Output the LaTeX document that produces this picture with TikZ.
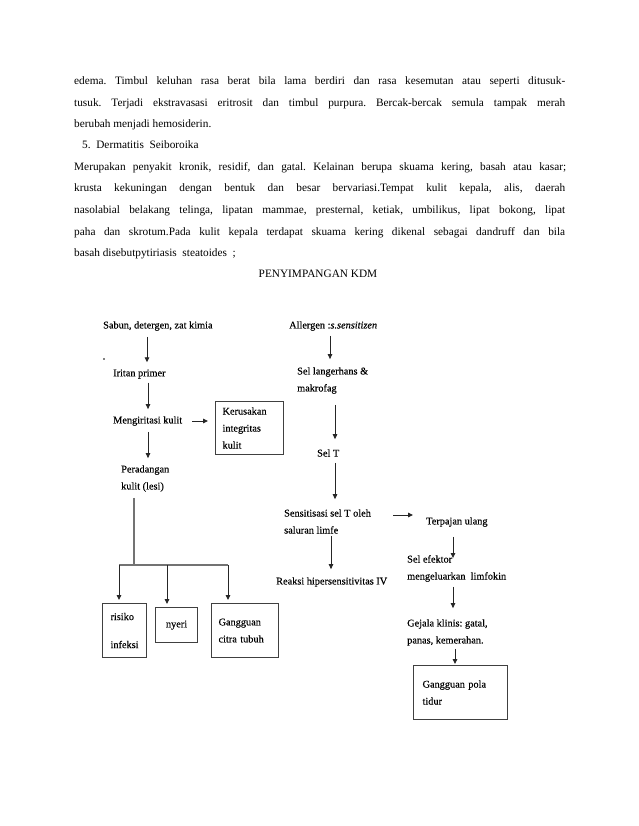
\documentclass[tikz,border=0pt]{standalone}
\usepackage{fontspec}
\setmainfont{Liberation Serif}
\newfontfamily\diagfont[FakeBold=0.2]{Liberation Serif}
\usetikzlibrary{arrows.meta,calc}
\frenchspacing
\begin{document}
\begin{tikzpicture}[x=1pt,y=-1pt,
  body/.style={anchor=base west,inner sep=0pt,font=\fontsize{11.3}{13}\selectfont\frenchspacing},
  lbl/.style={anchor=west,inner sep=0pt,align=left,font=\diagfont\fontsize{10.3}{17}\selectfont},
  bx/.style={draw=black!75,line width=1.1pt,align=left,inner xsep=7pt,inner ysep=0pt,font=\diagfont\fontsize{10.3}{17}\selectfont},
  arr/.style={draw=black!85,line width=0.9pt,-{Triangle[length=5pt,width=4.5pt]}},
  tree/.style={draw=black!55,line width=1.4pt}]
\fill[white] (0,0) rectangle (638,826);
\useasboundingbox (0,0) rectangle (638,826);

% ---- body text
\node[body] (t1) at (74,85) {\makebox[491pt][s]{edema. Timbul keluhan rasa berat bila lama berdiri dan rasa kesemutan atau seperti ditusuk-}};
\node[body] (t2) at (74,107) {\makebox[491pt][s]{tusuk. Terjadi ekstravasasi eritrosit dan timbul purpura. Bercak-bercak semula tampak merah}};
\node[body] (t3) at (74,128) {berubah menjadi hemosiderin.};
\node[body] (t4) at (82,149) {5.\ \ Dermatitis\ \ Seiboroika};
\node[body] (t5) at (74,171) {\makebox[492pt][s]{Merupakan penyakit kronik, residif, dan gatal. Kelainan berupa skuama kering, basah atau kasar;}};
\node[body] (t6) at (74,192) {\makebox[491pt][s]{krusta kekuningan dengan bentuk dan besar bervariasi.Tempat kulit kepala, alis, daerah}};
\node[body] (t7) at (74,214) {\makebox[491pt][s]{nasolabial belakang telinga, lipatan mammae, presternal, ketiak, umbilikus, lipat bokong, lipat}};
\node[body] (t8) at (74,235) {\makebox[491pt][s]{paha dan skrotum.Pada kulit kepala terdapat skuama kering dikenal sebagai dandruff dan bila}};
\node[body] (t9) at (74,256) {basah disebutpytiriasis\ \ steatoides\ \ ;};
\node[body,anchor=base] (title) at (318,277) {PENYIMPANGAN KDM};

% ---- left column
\node[lbl] (sabun) at (103,326) {Sabun, detergen, zat kimia};
\fill (104,359) circle (0.9pt);
\node[lbl] (iritan) at (113,374) {Iritan primer};
\node[lbl] (meng) at (113,421) {Mengiritasi kulit};
\node[bx,text width=54pt,minimum height=53pt,anchor=north west] (kerus) at (215,401) {Kerusakan\\integritas\\kulit};
\node[lbl] (perad) at (121,478.5) {Peradangan\\kulit (lesi)};

\node[bx,text width=28pt,inner xsep=8pt,minimum height=54pt,anchor=north west] (risiko) at (102,603) {risiko\\[11pt]infeksi};
\node[bx,align=center,minimum width=42pt,minimum height=35pt,anchor=north west] (nyeri) at (155,607) {nyeri};
\node[bx,text width=53pt,minimum height=54pt,anchor=north west] (citra) at (211,603) {Gangguan\\citra tubuh\\[-3pt]};

\draw[arr,shorten <=6pt,shorten >=7pt] (sabun.south -| 147,0) -- (iritan.north -| 147,0);
\draw[arr,shorten <=4pt,shorten >=7pt] (iritan.south -| 148,0) -- (meng.north -| 148,0);
\draw[arr,shorten <=10pt,shorten >=7pt] (meng.east) -- (meng.east -| kerus.west);
\draw[arr,shorten <=6pt,shorten >=7pt] (meng.south -| 148,0) -- (perad.north -| 148,0);

\coordinate (j) at (134,565);
\coordinate (b1) at (119,565);
\coordinate (b2) at (167,565);
\coordinate (b3) at (228,565);
\draw[tree,shorten <=6pt] (perad.south -| j) -- (j);
\draw[tree] (b1) -- (b3);
\draw[arr,shorten >=3pt] (b1) -- (b1 |- risiko.north);
\draw[arr,shorten >=3pt] (b2) -- (b2 |- nyeri.north);
\draw[arr,shorten >=3pt] (b3) -- (b3 |- citra.north);

% ---- right column
\node[lbl] (aller) at (289,326) {Allergen :\textit{s.sensitizen}};
\node[lbl] (langer) at (297,380.5) {Sel langerhans \&\\makrofag};
\node[lbl] (selt) at (317,453) {Sel T};
\node[lbl] (sens) at (284,521.5) {Sensitisasi sel T oleh\\saluran limfe};
\node[lbl] (terp) at (426,522) {Terpajan ulang};
\node[lbl] (reaksi) at (276,582) {Reaksi hipersensitivitas IV};
\node[lbl] (efek) at (407,568.5) {Sel efektor\\mengeluarkan\ \ limfokin};
\node[lbl] (gejala) at (407,632.5) {Gejala klinis: gatal,\\panas, kemerahan.};
\node[bx,text width=76pt,inner xsep=9pt,minimum height=54pt,anchor=north west] (pola) at (413,665) {Gangguan pola\\tidur\\[-3pt]};

\draw[arr,shorten <=5pt,shorten >=8pt] (aller.south -| 330,0) -- (langer.north -| 330,0);
\draw[arr,shorten <=11pt,shorten >=10pt] (langer.south -| 335,0) -- (selt.north -| 335,0);
\draw[arr,shorten <=6pt,shorten >=10pt] (selt.south -| 335,0) -- (sens.north -| 335,0);
\draw[arr,shorten <=22pt,shorten >=13pt] (sens.east |- 0,515) -- (terp.west |- 0,515);
\draw[arr,shorten <=2pt,shorten >=8pt] (sens.south -| 331,0) -- (reaksi.north -| 331,0);
\draw[arr,shorten <=10pt,shorten >=-3pt] (terp.south -| 453,0) -- (efek.north -| 453,0);
\draw[arr,shorten <=5pt,shorten >=11pt] (efek.south -| 453,0) -- (gejala.north -| 453,0);
\draw[arr,shorten <=3pt,shorten >=1pt] (gejala.south -| 455,0) -- (pola.north -| 455,0);
\end{tikzpicture}
\end{document}
